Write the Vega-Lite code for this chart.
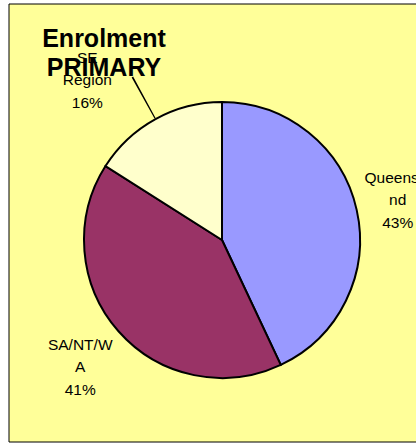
{
  "$schema": "https://vega.github.io/schema/vega-lite/v6.json",
  "width": 416,
  "height": 438,
  "autosize": "none",
  "padding": {"left": 9, "top": 4, "right": 0, "bottom": 6},
  "background": "white",
  "config": {
    "view": {"fill": "#FFFF99", "stroke": "black", "strokeWidth": 1},
    "font": "Liberation Sans"
  },
  "title": {
    "text": ["Enrolment", "PRIMARY"],
    "anchor": "start",
    "frame": "group",
    "align": "center",
    "baseline": "top",
    "dx": 95,
    "dy": 23,
    "offset": -54,
    "fontSize": 25,
    "fontWeight": "bold",
    "font": "Liberation Sans",
    "color": "black",
    "lineHeight": 29
  },
  "data": {
    "values": [
      {"region": "Queensland", "label": "Queensla\nnd\n43%", "pct": 43},
      {"region": "SA/NT/WA", "label": "SA/NT/W\nA\n41%", "pct": 41},
      {"region": "SE Region", "label": "SE\nRegion\n16%", "pct": 16}
    ]
  },
  "layer": [
    {
      "data": {"values": [{"frame": "chart area"}]},
      "mark": {"type": "rect", "fill": "#FFFF99", "stroke": "black", "strokeWidth": 1},
      "encoding": {}
    },
    {
      "mark": {"type": "arc", "outerRadius": 138, "stroke": "black", "strokeWidth": 2, "xOffset": 5, "yOffset": 17},
      "encoding": {
        "theta": {"field": "pct", "type": "quantitative", "stack": true},
        "color": {
          "field": "region",
          "type": "nominal",
          "scale": {"domain": ["Queensland", "SA/NT/WA", "SE Region"], "range": ["#9999FF", "#993366", "#FFFFCC"]},
          "legend": null
        }
      }
    },
    {
      "transform": [{"filter": "datum.region === 'SE Region'"}],
      "mark": {"type": "arc", "theta": 5.776, "theta2": 5.785, "innerRadius": 139, "outerRadius": 186, "fill": "black", "xOffset": 5, "yOffset": 17},
      "encoding": {}
    },
    {
      "mark": {"type": "text", "radius": 180, "fontSize": 15.5, "lineHeight": 22.5, "lineBreak": "\n", "align": "center", "baseline": "middle", "fill": "black", "dx": 5, "dy": -6},
      "encoding": {
        "theta": {"field": "pct", "type": "quantitative", "stack": true},
        "detail": {"field": "region", "type": "nominal"},
        "text": {"condition": {"test": "datum.region === 'Queensland'", "field": "label"}, "value": ""}
      }
    },
    {
      "mark": {"type": "text", "radius": 189, "fontSize": 15.5, "lineHeight": 22.5, "lineBreak": "\n", "align": "center", "baseline": "middle", "fill": "black", "dx": 5, "dy": -3},
      "encoding": {
        "theta": {"field": "pct", "type": "quantitative", "stack": true},
        "detail": {"field": "region", "type": "nominal"},
        "text": {"condition": {"test": "datum.region === 'SA/NT/WA'", "field": "label"}, "value": ""}
      }
    },
    {
      "mark": {"type": "text", "radius": 182, "fontSize": 15.5, "lineHeight": 22.5, "lineBreak": "\n", "align": "center", "baseline": "middle", "fill": "black", "dx": -42, "dy": -6},
      "encoding": {
        "theta": {"field": "pct", "type": "quantitative", "stack": true},
        "detail": {"field": "region", "type": "nominal"},
        "text": {"condition": {"test": "datum.region === 'SE Region'", "field": "label"}, "value": ""}
      }
    }
  ]
}
